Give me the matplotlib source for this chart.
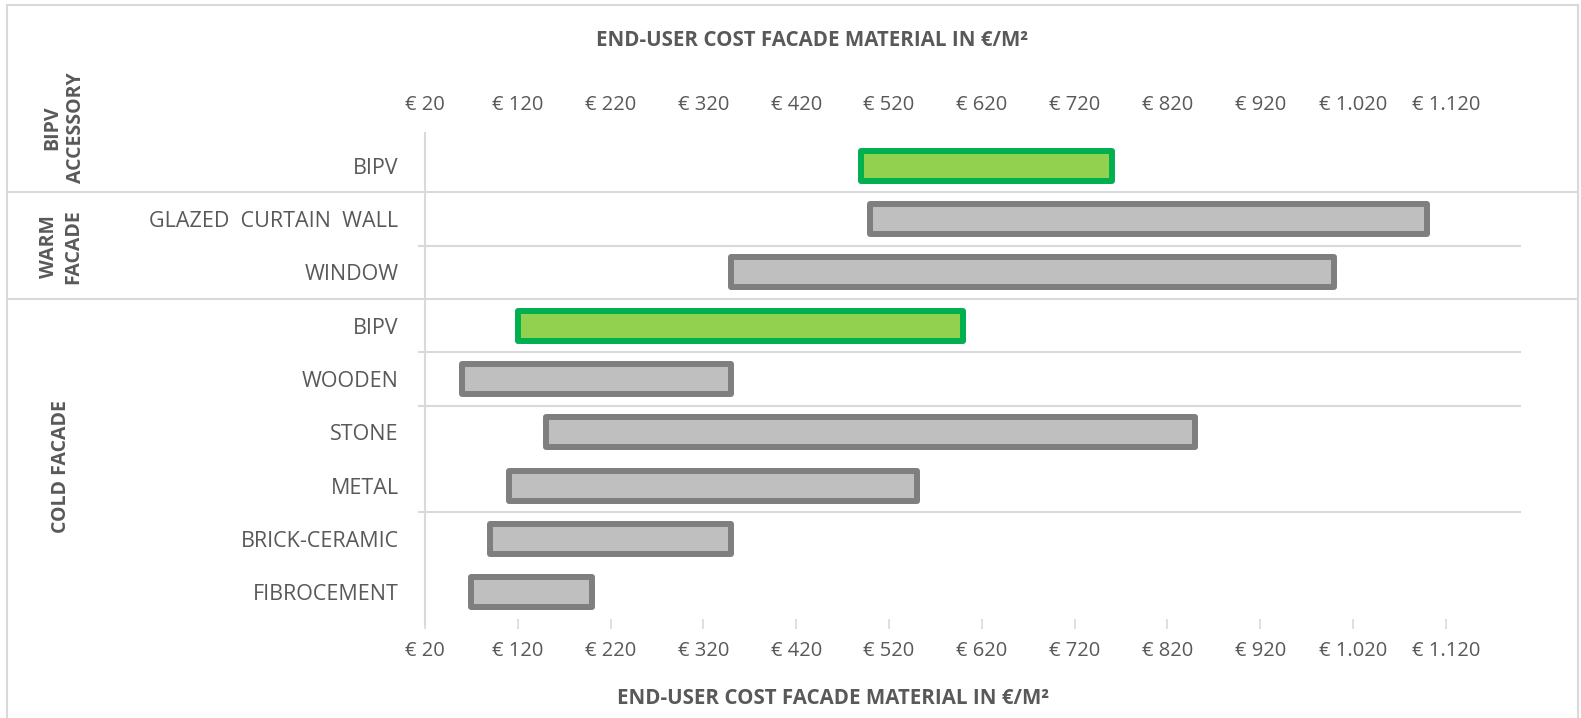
import matplotlib.pyplot as plt
from matplotlib.lines import Line2D
from matplotlib.transforms import blended_transform_factory

plt.rcParams['font.family'] = ['Open Sans', 'DejaVu Sans']

#%%----------------- data (cost range per facade material, EUR/m2)

materials = ['BIPV', 'GLAZED  CURTAIN  WALL', 'WINDOW', 'BIPV', 'WOODEN',
             'STONE', 'METAL', 'BRICK-CERAMIC', 'FIBROCEMENT']
cost_min = [490, 500, 350, 120, 60, 150, 110, 90, 70]
cost_max = [760, 1100, 1000, 600, 350, 850, 550, 350, 200]
is_bipv = [True, False, False, True, False, False, False, False, False]

groups = ['BIPV\nACCESSORY', 'WARM\nFACADE', 'COLD FACADE']

tick_values = list(range(20, 1121, 100))
tick_labels = ['€ 20', '€ 120', '€ 220', '€ 320', '€ 420', '€ 520', '€ 620',
               '€ 720', '€ 820', '€ 920', '€ 1.020', '€ 1.120']

xlabel = 'END-USER COST FACADE MATERIAL IN €/M²'

txt = '#595959'
grid_c = '#D9D9D9'

W, H = 1581, 718
fig = plt.figure(figsize=(W / 100, H / 100), dpi=100)
ax = fig.add_axes([425 / W, 1 - 619 / H, 1095 / W, 480 / H])

rows = list(range(len(materials)))
widths = [b - a for a, b in zip(cost_min, cost_max)]
faces = ['#92D050' if g else '#BFBFBF' for g in is_bipv]
edges = ['#00B050' if g else '#7F7F7F' for g in is_bipv]
bars = ax.barh(rows, widths, left=cost_min, height=0.56, color=faces,
               edgecolor=edges, linewidth=4.3, zorder=3)
for b in bars:
    b.set_joinstyle('round')

ax.set_xlim(20, 1200)
ax.set_ylim(len(materials) - 0.5, -0.5)

for s in ax.spines.values():
    s.set_visible(False)

ax.set_yticks(rows)
ax.set_yticklabels(materials, fontsize=15.5, color=txt)
ax.tick_params(axis='y', length=0, pad=19)

ax.set_xticks(tick_values)
ax.set_xticklabels(tick_labels, fontsize=14.5, color=txt)
ax.tick_params(axis='x', direction='out', length=7, width=1.2, color=grid_c, pad=9)

# same ticks labelled along the top
top = ax.secondary_xaxis('top')
top.set_xticks(tick_values)
top.set_xticklabels(tick_labels, fontsize=14.5, color=txt)
top.tick_params(length=0, pad=17)
top.spines['top'].set_visible(False)

# value axis line
ax.plot([20, 20], [-0.5 - 6 / 53.3, len(materials) - 0.5 + 6 / 53.3],
        color=grid_c, lw=1.5, clip_on=False, zorder=1)

# separators between rows inside the plot
ax_tr = blended_transform_factory(ax.transAxes, ax.transData)
for y in [1.5, 3.5, 4.5, 6.5]:
    ax.plot([-6 / 1095, 1.0], [y, y], color=grid_c, lw=1.5,
            transform=ax_tr, clip_on=False, zorder=1)

# separators between facade groups across the whole frame
fig_tr = blended_transform_factory(fig.transFigure, ax.transData)
for y in [0.5, 2.5]:
    ax.plot([7 / W, 1578 / W], [y, y], color=grid_c, lw=1.5,
            transform=fig_tr, clip_on=False, zorder=1)

# outer frame
for xs, ys in [([7, 7], [5, 730]), ([7, 1578], [5, 5]), ([1578, 1578], [5, 730])]:
    fig.add_artist(Line2D([x / W for x in xs], [1 - y / H for y in ys],
                          color=grid_c, lw=1.5))

# rotated group names
grp_x = [64, 61, 61]
grp_y = [128, 247, 467]
for name, gx, gy in zip(groups, grp_x, grp_y):
    fig.text(gx / W, 1 - gy / H, name, rotation=90, ha='center', va='center',
             fontsize=14, fontweight='bold', color=txt, linespacing=1.25)

fig.text(812 / W, 1 - 41 / H, xlabel, ha='center', va='center',
         fontsize=14.8, fontweight='bold', color=txt)
fig.text(833 / W, 1 - 698 / H, xlabel, ha='center', va='center',
         fontsize=14.8, fontweight='bold', color=txt)

fig.savefig('out.png', dpi=100, facecolor='white')
